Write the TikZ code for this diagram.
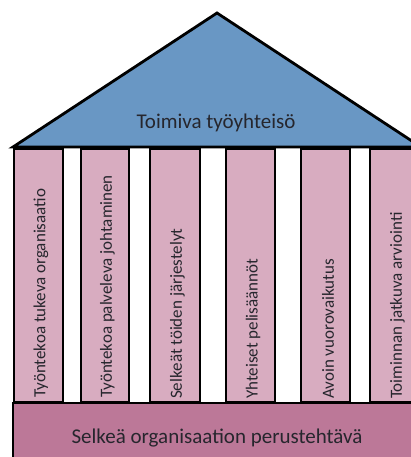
\documentclass[tikz,border=0pt]{standalone}
\usepackage{fontspec}
\setmainfont{Carlito}
\definecolor{roofblue}{RGB}{105,151,196}
\definecolor{pillarpink}{RGB}{216,172,192}
\definecolor{basepink}{RGB}{188,120,152}
\definecolor{txt}{RGB}{38,38,45}
\begin{document}
\begin{tikzpicture}[x=1pt,y=-1pt,
  pillar/.style={draw=black,line width=2.6pt,fill=pillarpink,minimum height=253pt,inner sep=0pt,outer sep=0pt},
  ptext/.style={rotate=90,anchor=west,text=txt,font=\fontsize{17}{19}\selectfont,inner sep=0pt},
  bigtext/.style={text=txt,font=\fontsize{21}{24}\selectfont,inner sep=0pt}]
\useasboundingbox (0,0) rectangle (411,457);
\clip (0,0) rectangle (411,457);
\fill[white] (0,0) rectangle (411,457);
% base
\node[draw=black,line width=2.8pt,fill=basepink,minimum width=407pt,minimum height=70pt,inner sep=0pt] (base) at (216.5,438) {};
\node[bigtext] (basetext) at (217,438) {Selkeä organisaation perustehtävä};
% pillars
\node[pillar,minimum width=49pt] (p1) at (38.5,275.5) {};
\node[pillar,minimum width=48pt] (p2) at (105,275.5) {};
\node[pillar,minimum width=50pt] (p3) at (175,275.5) {};
\node[pillar,minimum width=49pt] (p4) at (250.5,275.5) {};
\node[pillar,minimum width=49pt] (p5) at (325.5,275.5) {};
\node[pillar,minimum width=50pt] (p6) at (395,275.5) {};
\node[ptext] (t1) at (41,398) {Työntekoa tukeva organisaatio};
\node[ptext] (t2) at (107.5,398) {Työntekoa palveleva johtaminen};
\node[ptext] (t3) at (177.5,399) {Selkeät töiden järjestelyt};
\node[ptext] (t4) at (253,399) {Yhteiset pelisäännöt};
\node[ptext] (t5) at (328,399) {Avoin vuorovaikutus};
\node[ptext] (t6) at (397.5,399) {Toiminnan jatkuva arviointi};
% roof
\coordinate (apex) at (217,13);
\coordinate (rl) at (13,147);
\coordinate (rr) at (421,147);
\draw[line width=2.8pt,fill=roofblue] (apex) -- (rr) -- (rl) -- cycle;
\node[bigtext] (rooftext) at (216,123) {Toimiva työyhteisö};
\end{tikzpicture}
\end{document}
